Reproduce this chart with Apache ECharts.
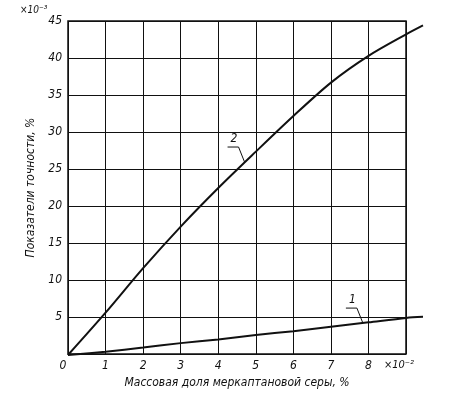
<!DOCTYPE html>
<html><head><meta charset="utf-8">
<script src="https://cdn.jsdelivr.net/npm/echarts@6/dist/echarts.min.js"></script>
<style>html,body{margin:0;padding:0;background:#fff}#c{width:462px;height:394px}</style>
</head><body><div id="c"></div>
<script>
var xTicks = [0,1,2,3,4,5,6,7,8,9];
var xValues = [0,1,2,3,4,5,6,7,8,9,9.45];
var curve1 = [0,0.45,1.0,1.6,2.1,2.7,3.2,3.8,4.4,5.0,5.15];
var curve2 = [0,5.7,11.7,17.3,22.5,27.4,32.2,36.7,40.3,43.2,44.4];
var curveNames = ['1','2'];
var labelAnchors = [[7.85,4.3],[4.7,26.0]];
var yTickLabels = ['0','5','10','15','20','25','30','35','40','45'];

var FONT = '"Liberation Sans Narrow","DejaVu Sans Condensed","DejaVu Sans",sans-serif';
var chart = echarts.init(document.getElementById('c'));
function pairs(v){return xValues.map(function(x,i){return [x,v[i]];});}
var xMaxGrid = xTicks[xTicks.length-1];
var xMaxData = xValues[xValues.length-1];
chart.setOption({
  animation:false,
  backgroundColor:'#fff',
  grid:[
    {left:68,right:56,top:21,bottom:39,show:true,borderColor:'#111',borderWidth:1.5},
    {left:68,right:39,top:21,bottom:39,show:false}
  ],
  xAxis:[{type:'value',gridIndex:0,min:0,max:xMaxGrid,interval:1,
    axisLine:{show:false},axisTick:{show:false},
    splitLine:{show:true,lineStyle:{color:'#111',width:1}},
    axisLabel:{fontFamily:FONT,fontStyle:'italic',fontSize:12,color:'#111',margin:6,
      formatter:function(v){ if(v===9) return '{s|×10⁻²}'; if(v===0) return '{z|0}'; return String(v);},
      rich:{s:{fontFamily:FONT,fontStyle:'italic',fontSize:11,color:'#111',padding:[0,14,0,0]},
            z:{fontFamily:FONT,fontStyle:'italic',fontSize:12,color:'#111',padding:[0,10,0,0]}}},
    name:'Массовая доля меркаптановой серы, %',nameLocation:'middle',nameGap:21,
    nameTextStyle:{fontFamily:FONT,fontStyle:'italic',fontSize:12,color:'#111'}
  },{type:'value',gridIndex:1,min:0,max:xMaxData,show:false,splitLine:{show:false}}],
  yAxis:[{type:'value',gridIndex:0,min:0,max:45,interval:5,
    axisLine:{show:false},axisTick:{show:false},
    splitLine:{show:true,lineStyle:{color:'#111',width:1}},
    axisLabel:{fontFamily:FONT,fontStyle:'italic',fontSize:12,color:'#111',margin:6,
      formatter:function(v,i){ return v===0 ? '' : yTickLabels[i]; }},
    name:'Показатели точности, %',nameLocation:'middle',nameGap:21,
    nameTextStyle:{fontFamily:FONT,fontStyle:'italic',fontSize:12,color:'#111'}
  },{type:'value',gridIndex:1,min:0,max:45,show:false,splitLine:{show:false}}],
  series:[
    {type:'line',name:curveNames[0],xAxisIndex:1,yAxisIndex:1,data:pairs(curve1),smooth:0.3,showSymbol:false,
     lineStyle:{color:'#111',width:2}},
    {type:'line',name:curveNames[1],xAxisIndex:1,yAxisIndex:1,data:pairs(curve2),smooth:0.3,showSymbol:false,
     lineStyle:{color:'#111',width:2}}
  ]
});
var g = [];
g.push({type:'text',left:20,top:5,style:{text:'×10⁻³',fontFamily:FONT,fontStyle:'italic',fontSize:10,fill:'#111'}});
labelAnchors.forEach(function(a,i){
  var p = chart.convertToPixel({xAxisIndex:1,yAxisIndex:1},a);
  g.push({type:'polyline',shape:{points:[[p[0]-17,p[1]-15],[p[0]-6,p[1]-15],[p[0],p[1]]]},style:{stroke:'#111',lineWidth:1,fill:null}});
  g.push({type:'text',x:p[0]-14,y:p[1]-29,style:{text:curveNames[i],fontFamily:FONT,fontStyle:'italic',fontSize:12,fill:'#111'}});
});
chart.setOption({graphic:g});
</script></body></html>
